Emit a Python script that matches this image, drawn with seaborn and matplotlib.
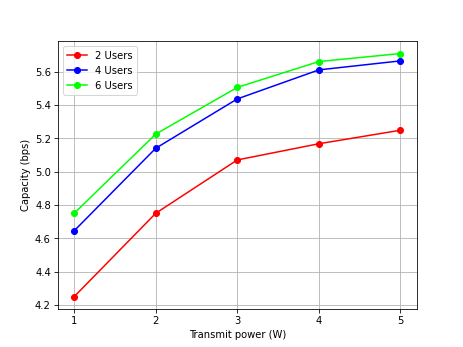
import pandas as pd
import matplotlib
matplotlib.use('Agg')
import matplotlib.pyplot as plt
import seaborn as sns

power = [1, 2, 3, 4, 5]
users_2 = [4.25, 4.75, 5.07, 5.167, 5.248]
users_4 = [4.645, 5.14, 5.436, 5.61, 5.664]
users_6 = [4.75, 5.225, 5.505, 5.66, 5.708]

series = [('2 Users', users_2, 'red'),
          ('4 Users', users_4, 'blue'),
          ('6 Users', users_6, 'lime')]

# 6.4x4.8 in at ~72 dpi gives 463x347 px
fig, ax = plt.subplots(figsize=(6.4, 4.8), dpi=72.35)

for label, values, color in series:
    df = pd.DataFrame({'power': power, 'capacity': values})
    sns.lineplot(data=df, x='power', y='capacity', marker='o', markersize=6,
                 markeredgewidth=1, markeredgecolor=color, color=color,
                 label=label, ax=ax)

ax.set_xlabel('Transmit power (W)')
ax.set_ylabel('Capacity (bps)')
ax.set_xticks(power)
ax.grid(True)
ax.legend(loc='upper left')

fig.savefig('out.png')
